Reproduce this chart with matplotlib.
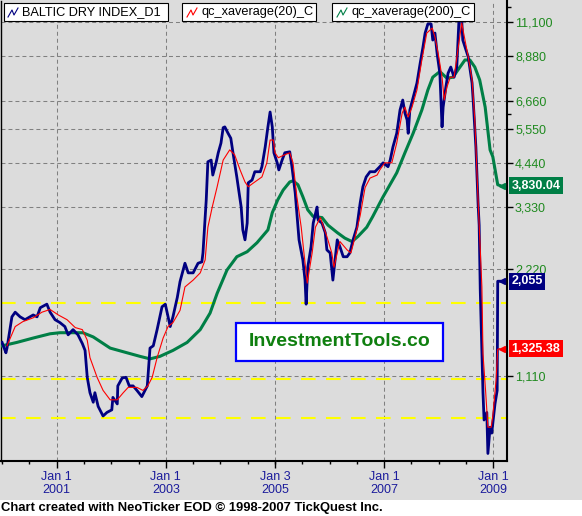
import matplotlib
matplotlib.use("Agg")
import matplotlib.pyplot as plt
import matplotlib.transforms as mtransforms
from matplotlib.lines import Line2D
from matplotlib.patches import Rectangle
from matplotlib.ticker import FixedLocator, NullFormatter

plt.rcParams["font.family"] = ["Liberation Sans", "DejaVu Sans"]

# Baltic Dry Index (decimal year, index value)
bdi_years = [
    2000.00, 2000.07, 2000.09, 2000.18, 2000.24, 2000.33, 2000.42, 2000.57, 2000.64, 2000.70,
    2000.82, 2000.88, 2000.97, 2001.06, 2001.15, 2001.21, 2001.30, 2001.39, 2001.47, 2001.52,
    2001.56, 2001.61, 2001.67, 2001.70, 2001.76, 2001.85, 2001.92, 2002.01, 2002.03, 2002.11,
    2002.12, 2002.20, 2002.27, 2002.33, 2002.40, 2002.47, 2002.56, 2002.66, 2002.71, 2002.77,
    2002.84, 2002.93, 2002.99, 2003.08, 2003.13, 2003.21, 2003.26, 2003.35, 2003.41, 2003.50,
    2003.59, 2003.66, 2003.68, 2003.74, 2003.77, 2003.83, 2003.86, 2003.92, 2003.96, 2004.01,
    2004.05, 2004.08, 2004.14, 2004.19, 2004.23, 2004.30, 2004.38, 2004.41, 2004.45, 2004.49,
    2004.51, 2004.58, 2004.63, 2004.73, 2004.76, 2004.82, 2004.87, 2004.91, 2004.95, 2004.98,
    2005.04, 2005.07, 2005.13, 2005.18, 2005.27, 2005.31, 2005.37, 2005.40, 2005.44, 2005.51,
    2005.55, 2005.57, 2005.60, 2005.66, 2005.70, 2005.77, 2005.79, 2005.86, 2005.92, 2005.95,
    2006.01, 2006.06, 2006.10, 2006.14, 2006.19, 2006.25, 2006.32, 2006.37, 2006.43, 2006.50,
    2006.56, 2006.61, 2006.67, 2006.74, 2006.83, 2006.92, 2006.98, 2007.07, 2007.11, 2007.16,
    2007.23, 2007.29, 2007.34, 2007.38, 2007.42, 2007.44, 2007.47, 2007.53, 2007.60, 2007.66,
    2007.71, 2007.75, 2007.80, 2007.86, 2007.89, 2007.93, 2007.97, 2008.02, 2008.06, 2008.08,
    2008.13, 2008.17, 2008.22, 2008.28, 2008.33, 2008.37, 2008.42, 2008.44, 2008.50, 2008.54,
    2008.61, 2008.63, 2008.68, 2008.72, 2008.74, 2008.76, 2008.79, 2008.81, 2008.83, 2008.88,
    2008.90, 2008.94, 2008.97, 2008.99, 2009.03, 2009.07, 2009.08, 2009.12,
]
bdi_values = [
    1380, 1290, 1330, 1630, 1680, 1630, 1600, 1650, 1630, 1730,
    1770, 1680, 1600, 1570, 1530, 1450, 1500, 1450, 1370, 1310,
    1100, 995, 935, 995, 910, 855, 875, 890, 965, 925,
    1040, 1095, 1100, 1040, 1040, 1010, 970, 1040, 1330, 1350,
    1500, 1740, 1770, 1530, 1630, 1850, 2050, 2310, 2170, 2170,
    2310, 2330, 2470, 3490, 4470, 4520, 4100, 4440, 4740, 5050,
    5580, 5610, 5380, 5210, 4740, 4050, 3330, 2870, 2690, 3000,
    3900, 3970, 4190, 4190, 4330, 4920, 5610, 6180, 5610, 4740,
    4440, 4240, 4520, 4740, 4770, 4330, 3650, 3210, 2690, 2360,
    2070, 1770, 2250, 2570, 3000, 3330, 3060, 3000, 2820, 2520,
    2470, 2070, 2360, 2690, 2570, 2410, 2410, 2470, 2690, 2920,
    3420, 3800, 4050, 4190, 4190, 4330, 4440, 4330, 4520, 4920,
    5380, 6260, 6680, 6140, 5870, 5380, 6260, 6790, 7460, 8500,
    9420, 10330, 10956, 10956, 9870, 10330, 9030, 7950, 5610, 6380,
    7270, 7950, 8280, 7750, 8280, 11245, 11245, 9870, 9250, 8840,
    7460, 6680, 4920, 3410, 2960, 1940, 1280, 995, 833, 875,
    670, 795, 765, 815, 925, 1010, 2055, 2055,
]

# qc_xaverage(20)
ma20_years = [
    2000.09, 2000.24, 2000.38, 2000.57, 2000.73, 2000.88, 2001.03, 2001.19, 2001.34, 2001.47,
    2001.56, 2001.61, 2001.74, 2001.85, 2001.98, 2002.11, 2002.22, 2002.31, 2002.47, 2002.58,
    2002.67, 2002.75, 2002.84, 2002.95, 2003.04, 2003.13, 2003.26, 2003.35, 2003.50, 2003.63,
    2003.72, 2003.77, 2003.85, 2003.94, 2004.05, 2004.17, 2004.26, 2004.36, 2004.45, 2004.51,
    2004.63, 2004.76, 2004.85, 2004.91, 2004.97, 2005.00, 2005.06, 2005.18, 2005.27, 2005.33,
    2005.40, 2005.48, 2005.53, 2005.59, 2005.68, 2005.74, 2005.83, 2005.95, 2006.04, 2006.08,
    2006.14, 2006.19, 2006.32, 2006.39, 2006.47, 2006.56, 2006.65, 2006.74, 2006.87, 2006.92,
    2007.01, 2007.14, 2007.23, 2007.33, 2007.38, 2007.44, 2007.51, 2007.60, 2007.69, 2007.78,
    2007.88, 2007.93, 2007.99, 2008.06, 2008.10, 2008.15, 2008.21, 2008.28, 2008.35, 2008.42,
    2008.48, 2008.54, 2008.61, 2008.66, 2008.72, 2008.79, 2008.81, 2008.86, 2008.90, 2008.96,
    2008.99, 2009.05, 2009.08, 2009.12,
]
ma20_values = [
    1350, 1530, 1580, 1620, 1680, 1710, 1650, 1600, 1520, 1500,
    1400, 1250, 1100, 1010, 950, 950, 995, 1030, 1030, 1010,
    1040, 1100, 1250, 1420, 1530, 1570, 1700, 1980, 2070, 2170,
    2360, 2920, 3330, 3800, 4520, 4830, 4680, 4240, 3920, 3800,
    3920, 4050, 4440, 5150, 5150, 4740, 4590, 4680, 4740, 4440,
    3560, 2920, 2470, 2030, 2470, 2920, 3110, 2750, 2470, 2250,
    2470, 2660, 2520, 2470, 2750, 3150, 3780, 4020, 4100, 4240,
    4440, 4440, 5050, 6140, 6380, 5980, 6380, 7130, 8670, 10330,
    10670, 10070, 9030, 7750, 6680, 7270, 7750, 7750, 9250, 11028,
    9870, 8840, 7610, 5870, 3490, 1980, 1280, 995, 795, 795,
    855, 1080, 1320, 1325.38,
]

# qc_xaverage(200)
ma200_years = [
    2000.00, 2000.27, 2000.57, 2000.88, 2001.06, 2001.48, 2001.67, 2001.98, 2002.29, 2002.53,
    2002.71, 2002.89, 2003.13, 2003.39, 2003.63, 2003.81, 2003.94, 2004.12, 2004.30, 2004.49,
    2004.67, 2004.87, 2004.95, 2005.05, 2005.15, 2005.27, 2005.33, 2005.42, 2005.51, 2005.60,
    2005.70, 2005.86, 2005.97, 2006.14, 2006.28, 2006.41, 2006.52, 2006.68, 2006.79, 2006.92,
    2006.98, 2007.23, 2007.38, 2007.53, 2007.69, 2007.80, 2007.89, 2008.02, 2008.15, 2008.26,
    2008.35, 2008.48, 2008.57, 2008.66, 2008.75, 2008.85, 2008.94, 2008.99, 2009.08, 2009.12,
]
ma200_values = [
    1350, 1380, 1420, 1460, 1470, 1470, 1430, 1330, 1290, 1260,
    1240, 1260, 1310, 1380, 1500, 1670, 1900, 2210, 2410, 2490,
    2640, 2870, 3210, 3490, 3720, 3920, 3950, 3850, 3560, 3270,
    3130, 3110, 2960, 2820, 2720, 2660, 2750, 2920, 3130, 3420,
    3560, 4160, 4740, 5380, 6260, 7130, 7750, 8040, 7700, 7750,
    8120, 8670, 8670, 8280, 7610, 6380, 4830, 4620, 3850, 3830.04,
]

support_levels = [1780, 1090, 845]

y_ticks = [1110, 2220, 3330, 4440, 5550, 6660, 8880, 11100]
y_minor_ticks = [6105, 7215, 12210]
x_label_pos = [2001.0, 2003.0, 2005.005, 2007.0, 2009.0]
x_labels = ["Jan 1\n2001", "Jan 1\n2003", "Jan 3\n2005", "Jan 1\n2007", "Jan 1\n2009"]
x_minor_ticks = [2000 + 0.5 * i for i in range(19)]

legend_labels = ["BALTIC DRY INDEX_D1", "qc_xaverage(20)_C", "qc_xaverage(200)_C"]

W, H, DPI = 582, 516, 100
BG = "#DCDCDC"
NAVY = "#000080"
RED = "#FF0000"
GREEN = "#007F46"


def fx(x):
    return x / W


def fy(y):
    return 1 - y / H


fig = plt.figure(figsize=(W / DPI, H / DPI), dpi=DPI, facecolor="white")
fig.add_artist(Rectangle((0, fy(500)), 1, 1 - fy(500), transform=fig.transFigure,
                         facecolor=BG, edgecolor="none", zorder=-5))

ax = fig.add_axes([fx(1), fy(461), fx(507) - fx(1), fy(1) - fy(461)])
ax.set_facecolor(BG)
ax.set_yscale("log")
ax.set_xlim(1999.98, 2009.25)
ax.set_ylim(638, 12725)

for lvl in support_levels:
    ax.axhline(lvl, color="#FFFF00", lw=1.5, dashes=(7, 5), zorder=1)

ax.plot(ma200_years, ma200_values, color=GREEN, lw=2.2, zorder=3)
ax.plot(bdi_years, bdi_values, color=NAVY, lw=2.0, zorder=4)
ax.plot(ma20_years, ma20_values, color=RED, lw=0.8, zorder=5)

# axes, ticks, grid
ax.yaxis.tick_right()
ax.set_yticks(y_ticks)
ax.set_yticklabels([f"{v:,}" for v in y_ticks])
ax.yaxis.set_minor_locator(FixedLocator(y_minor_ticks))
ax.yaxis.set_minor_formatter(NullFormatter())
ax.set_xticks(x_label_pos)
ax.set_xticklabels(x_labels, linespacing=1.1)
ax.xaxis.set_minor_locator(FixedLocator(x_minor_ticks))

ax.tick_params(axis="y", which="major", length=4.3, width=1, labelcolor="#1F8A1F",
               labelsize=9, pad=1.5)
ax.tick_params(axis="y", which="minor", length=3, width=1)
ax.tick_params(axis="x", which="major", length=5, width=1, labelcolor="#1C1C9C",
               labelsize=9, pad=2.5)
ax.tick_params(axis="x", which="minor", length=2.5, width=1)

ax.grid(True, which="major", color="#808080", lw=0.75, dashes=(3.8, 2.9))
ax.set_axisbelow(True)

ax.spines["top"].set_visible(False)
ax.spines["left"].set_linewidth(1)
ax.spines["bottom"].set_linewidth(1.5)
ax.spines["right"].set_linewidth(1.5)

# last-value markers on the right
trans = mtransforms.blended_transform_factory(ax.transAxes, ax.transData)
last_marks = [
    (ma200_values[-1], f"{ma200_values[-1]:,.2f}", GREEN),
    (bdi_values[-1], f"{bdi_values[-1]:,}", NAVY),
    (ma20_values[-1], f"{ma20_values[-1]:,.2f}", RED),
]
for val, txt, col in last_marks:
    ax.plot([0.991], [val], marker="<", ms=5, color=col, transform=trans,
            clip_on=False, zorder=10)
    ax.text(1.009, val, txt, transform=trans, ha="left", va="center", color="white",
            fontweight="bold", fontsize=9, clip_on=False, zorder=11,
            bbox=dict(boxstyle="square,pad=0.2", fc=col, ec="none"))

# legend boxes at the top
legend_boxes = [(4, 168, 8, 22), (182, 316, 187, 202), (332, 474, 337, 352)]
for (x0, x1, ix, tx), label, col in zip(legend_boxes, legend_labels, [NAVY, RED, GREEN]):
    fig.add_artist(Rectangle((fx(x0), fy(21)), fx(x1) - fx(x0), fy(3) - fy(21),
                             transform=fig.transFigure, fc="white", ec="black",
                             lw=0.8, zorder=20))
    fig.add_artist(Line2D([fx(ix), fx(ix + 4), fx(ix + 6), fx(ix + 10)],
                          [fy(17), fy(10), fy(15), fy(8)], transform=fig.transFigure,
                          color=col, lw=0.8, zorder=21))
    fig.text(fx(tx), fy(12.5), label, fontsize=9.2, va="center", ha="left", zorder=22)

# watermark
fig.add_artist(Rectangle((fx(236), fy(361)), fx(443) - fx(236), fy(323) - fy(361),
                         transform=fig.transFigure, fc="white", ec="#0000FF", lw=1.6,
                         zorder=20))
fig.text(fx(340), fy(342), "InvestmentTools.co", fontsize=14, fontweight="bold",
         color="#0F7F0F", ha="center", va="center", zorder=21)

fig.text(fx(1), fy(508), "Chart created with NeoTicker EOD \u00a9 1998-2007 TickQuest Inc.",
         fontsize=9.4, fontweight="bold", ha="left", va="center")

fig.savefig("out.png", dpi=DPI, facecolor="white")
